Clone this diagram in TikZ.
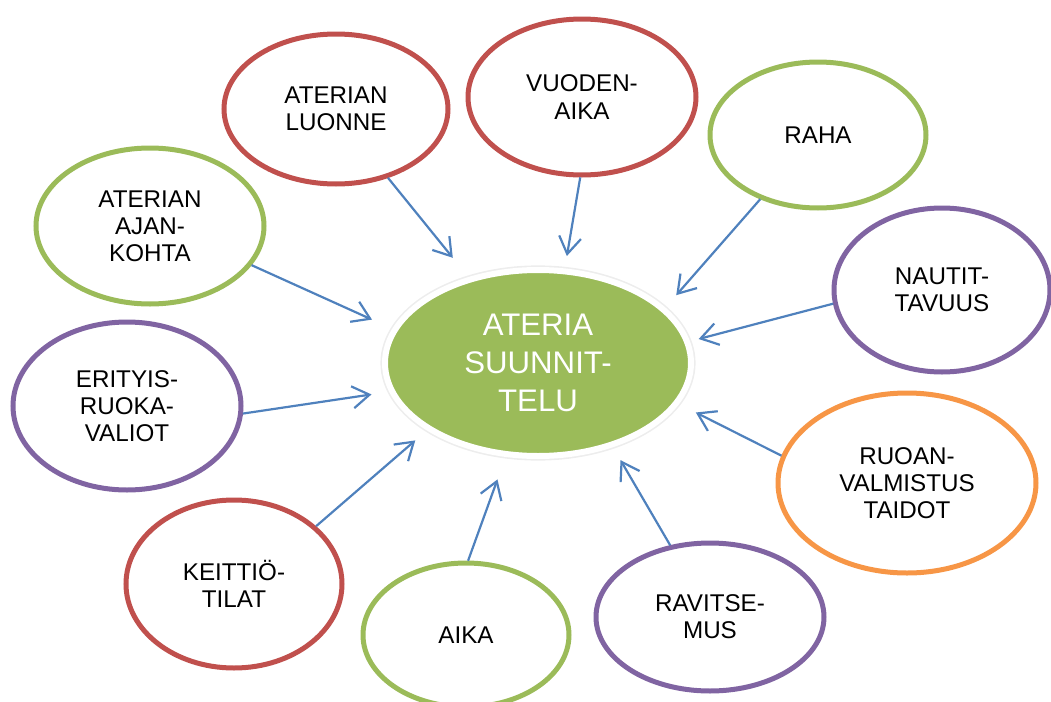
\documentclass[tikz,border=0pt]{standalone}
\usepackage{fontspec}
\setmainfont{Liberation Sans}
\usetikzlibrary{shapes.geometric,arrows.meta}
\definecolor{ored}{HTML}{C0504D}
\definecolor{ogreen}{HTML}{9BBB59}
\definecolor{opurple}{HTML}{8064A2}
\definecolor{oorange}{HTML}{F79646}
\definecolor{oblue}{HTML}{4F81BD}
\tikzset{>={Straight Barb[length=8.5pt,width=11pt]}}
\tikzset{bubble/.style={ellipse,draw,line width=2.5pt,fill=white,inner sep=0pt,outer sep=0pt,
    align=center,font=\fontsize{12.1}{13.6}\selectfont}}

\begin{document}
\begin{tikzpicture}[x=0.5pt,y=-0.5pt]
            \useasboundingbox (0,0) rectangle (1051,702);
            \node[ellipse,fill=ogreen,draw=white,line width=3pt,preaction={draw=black!7,line width=4.6pt},
                minimum width=153pt,minimum height=93pt,inner sep=0pt,outer sep=0pt,align=center,
                text=white,font=\fontsize{15.6}{18.9}\selectfont] (0) at (538,363) {ATERIA\\SUUNNIT-\\TELU};
            \node[bubble,draw=ored,minimum width=112pt,minimum height=75pt] (1) at (336,109) {ATERIAN\\LUONNE};
            \node[bubble,draw=ored,minimum width=114pt,minimum height=78pt] (2) at (582,97) {VUODEN-\\AIKA};
            \node[bubble,draw=ogreen,minimum width=108pt,minimum height=73pt] (3) at (818,135) {RAHA};
            \node[bubble,draw=opurple,minimum width=108pt,minimum height=82pt] (4) at (942,290) {NAUTIT-\\TAVUUS};
            \node[bubble,draw=oorange,minimum width=129pt,minimum height=90pt] (5) at (907,483) {RUOAN-\\VALMISTUS\\TAIDOT};
            \node[bubble,draw=opurple,minimum width=114pt,minimum height=74pt] (6) at (710,617) {RAVITSE-\\MUS};
            \node[bubble,draw=ogreen,minimum width=103pt,minimum height=72pt] (7) at (466,635) {AIKA};
            \node[bubble,draw=ored,minimum width=108pt,minimum height=84pt] (8) at (234,584) {KEITTIÖ-\\TILAT};
            \node[bubble,draw=opurple,minimum width=114pt,minimum height=84pt] (9) at (127,406) {ERITYIS-\\RUOKA-\\VALIOT};
            \node[bubble,draw=ogreen,minimum width=114pt,minimum height=78pt] (10) at (150,226) {ATERIAN\\AJAN-\\KOHTA};
            % arrows into the middle
            \foreach \v/\a/\b/\s in {1/-53/129/14,2/-91/74/7.8,3/228/23/9.7,4/187/8/6,5/168/-16/10.9,
                                     6/119/-48/9,7/89/-109/13.5,8/35/211/9.2,9/-4/191/10.5,10/-21/167/12.6}
                \draw[->,oblue,line width=1.1pt,shorten <=1.2pt,shorten >=\s pt] (\v.\a) -- (0.\b);
\end{tikzpicture}
\end{document}
